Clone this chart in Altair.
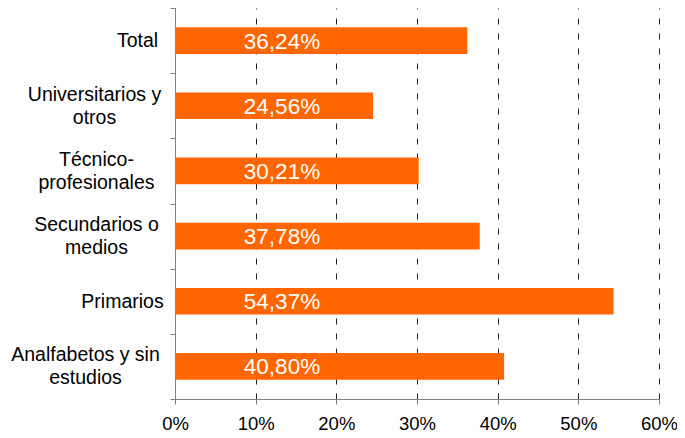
import altair as alt
import pandas as pd

categories = [
    ["Total"],
    ["Universitarios y", "otros"],
    ["Técnico-", "profesionales"],
    ["Secundarios o", "medios"],
    ["Primarios"],
    ["Analfabetos y sin", "estudios"],
]
keys = ["Total", "Universitarios y otros", "Técnico-profesionales",
        "Secundarios o medios", "Primarios", "Analfabetos y sin estudios"]
values = [36.24, 24.56, 30.21, 37.78, 54.37, 40.80]
x_ticks = [0, 0.1, 0.2, 0.3, 0.4, 0.5, 0.6]

df = pd.DataFrame({"cat": keys, "v": values})
df["frac"] = df["v"] / 100.0

label_expr = " : ".join(
    [f"datum.value == '{k}' ? {c!r}" for k, c in zip(keys, categories)]
) + " : datum.value"

# label block styling: lines centred within each right-aligned text block
pad_map = {
    "Total": 33, "Universitarios y otros": 76, "Técnico-profesionales": 74,
    "Secundarios o medios": 74, "Primarios": 48, "Analfabetos y sin estudios": 85,
}
pad_expr = " : ".join([f"datum.value == '{k}' ? {p}" for k, p in pad_map.items()]) + " : 8"
offset_expr = "(datum.value == 'Total' || datum.value == 'Primarios') ? 0 : -11.5"

font = "Liberation Sans"

y = alt.Y(
    "cat:N",
    sort=keys,
    title=None,
    scale=alt.Scale(paddingInner=0, paddingOuter=0),
    axis=alt.Axis(
        tickBand="extent",
        labelExpr=label_expr,
        labelFont=font,
        labelFontSize=19.5,
        labelColor="#000000",
        labelLineHeight=23,
        labelPadding=alt.ExprRef(pad_expr),
        labelOffset=alt.ExprRef(offset_expr),
        labelAlign="center",
        tickSize=5,
        tickColor="#808080",
        domainColor="#808080",
        grid=False,
        labelLimit=300,
    ),
)

bars = alt.Chart(df).mark_bar(color="#FF6600", size=26.7).encode(
    y=y,
    x=alt.X(
        "frac:Q",
        title=None,
        scale=alt.Scale(domain=[0, 0.6], nice=False),
        axis=alt.Axis(
            values=x_ticks,
            format=".0%",
            labelFont=font,
            labelFontSize=18.5,
            labelColor="#000000",
            labelPadding=10,
            labelFlush=False,
            labelOverlap=False,
            tickSize=5,
            tickColor="#808080",
            domainColor="#808080",
            grid=True,
            gridColor="#222222",
            gridDash=[6, 9],
            gridWidth=1,
        ),
    ),
)

labels = alt.Chart(df).transform_calculate(
    txt="replace(format(datum.v, '.2f'), '.', ',') + '%'"
).mark_text(
    font=font, fontSize=22.5, color="#FFFFFF", align="center", baseline="middle", dy=1
).encode(
    y=alt.Y("cat:N", sort=keys),
    x=alt.value(107),
    text="txt:N",
)

chart = alt.layer(bars, labels).properties(
    width=484,
    height=391,
    autosize=alt.AutoSizeParams(type="none"),
    padding={"left": 167, "top": 0, "right": 18, "bottom": 38},
).configure_view(stroke=None)

chart.save("out.html", embed_options={"renderer": "svg", "actions": False})
